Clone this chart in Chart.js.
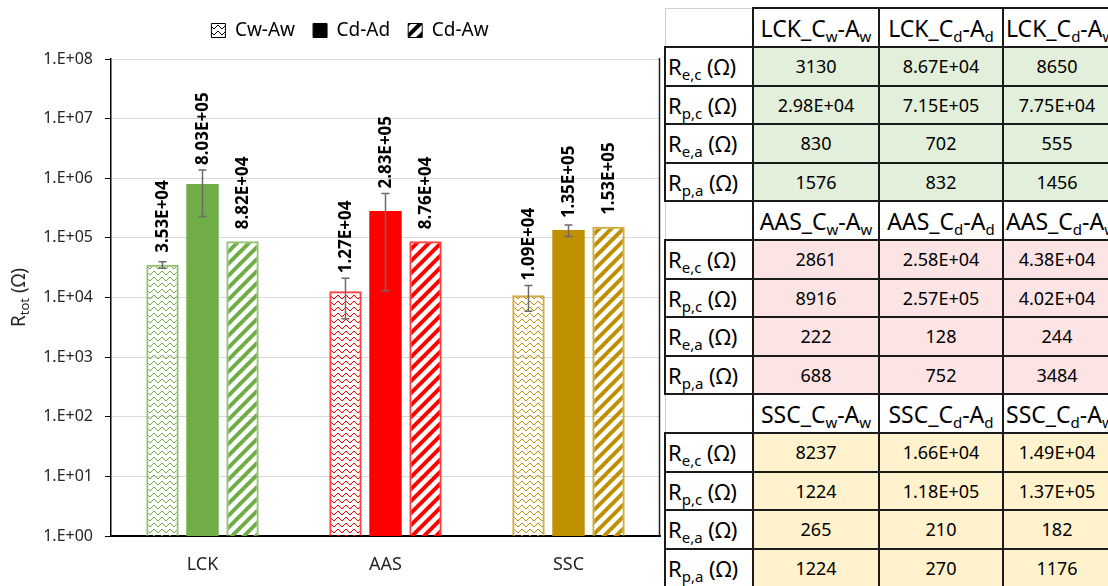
<!DOCTYPE html>
<html><head><meta charset="utf-8">
<script src="https://cdn.jsdelivr.net/npm/chart.js@4"></script>
<style>
html,body{margin:0;padding:0;background:#fff;width:1108px;height:586px;overflow:hidden;}
#wrap{position:relative;width:1108px;height:586px;overflow:hidden;}
#c{position:absolute;left:0;top:0;}
#tbl{position:absolute;left:664px;top:7px;width:446px;border-collapse:collapse;table-layout:fixed;font-family:'Noto Sans',sans-serif;color:#000;}
#tbl td{border:2px solid #1a1a1a;text-align:center;padding:0;white-space:nowrap;overflow:hidden;box-sizing:border-box;}
#tbl tr.h td{height:39px;font-size:23px;background:#fff;}
#tbl tr.h td.last{text-align:left;padding-left:2px;overflow:visible;}
#tbl tr.d td{height:38.5px;font-size:18px;}
#tbl tr.d td.rh{text-align:left;padding-left:2px;font-size:22px;background:#fff;}
#tbl tr.h td.corner{border-top:1px solid #d0d0d0;border-left:1px solid #d0d0d0;}
#tbl span.s{font-size:15px;position:relative;top:5px;}
</style></head>
<body><div id="wrap"><canvas id="c" width="661" height="586"></canvas><table id="tbl"><colgroup><col style="width:88px"><col style="width:126px"><col style="width:124px"><col style="width:108px"></colgroup><tbody id="tb"></tbody></table></div>
<script>
// ---- chart data ----
const categories = ['LCK', 'AAS', 'SSC'];
const seriesLabels = ['Cw-Aw', 'Cd-Ad', 'Cd-Aw'];
const cwAwValues = [3.53e4, 1.27e4, 1.09e4];
const cdAdValues = [8.03e5, 2.83e5, 1.35e5];
const cdAwValues = [8.82e4, 8.76e4, 1.53e5];
const cwAwErrors = [4500, 8300, 5000];
const cdAdErrors = [5.75e5, 2.7e5, 3.0e4];
const cdAwErrors = [0, 0, 0];
const yTickValues = [1, 10, 100, 1e3, 1e4, 1e5, 1e6, 1e7, 1e8];
const yTickLabels = ['1.E+00', '1.E+01', '1.E+02', '1.E+03', '1.E+04', '1.E+05', '1.E+06', '1.E+07', '1.E+08'];
const categoryColors = ['#70AD47', '#FF0000', '#BF9000'];
const categoryBorders = ['rgba(112,173,71,0.75)', 'rgba(255,0,0,0.75)', 'rgba(191,144,0,0.75)'];

// ---- table data ----
const tableSamples = ['LCK', 'AAS', 'SSC'];
const tableColumns = [['w', 'w'], ['d', 'd'], ['d', 'w']];
const tableRowSubs = ['e,c', 'p,c', 'e,a', 'p,a'];
const lckTable = [['3130', '8.67E+04', '8650'], ['2.98E+04', '7.15E+05', '7.75E+04'], ['830', '702', '555'], ['1576', '832', '1456']];
const aasTable = [['2861', '2.58E+04', '4.38E+04'], ['8916', '2.57E+05', '4.02E+04'], ['222', '128', '244'], ['688', '752', '3484']];
const sscTable = [['8237', '1.66E+04', '1.49E+04'], ['1224', '1.18E+05', '1.37E+05'], ['265', '210', '182'], ['1224', '270', '1176']];
const tableFills = ['#E2EFDA', '#FCE4E4', '#FFF2CC'];

// ---- build table ----
(function(){
  const tb = document.getElementById('tb');
  const blocks = [lckTable, aasTable, sscTable];
  let html = '';
  tableSamples.forEach((s, si) => {
    html += '<tr class="h"><td class="corner"></td>';
    tableColumns.forEach((c, ci) => { html += '<td' + (ci === tableColumns.length - 1 ? ' class="last"' : '') + '>' + s + '_C<span class="s">' + c[0] + '</span>-A<span class="s">' + c[1] + '</span></td>'; });
    html += '</tr>';
    blocks[si].forEach((row, ri) => {
      html += '<tr class="d"><td class="rh">R<span class="s">' + tableRowSubs[ri] + '</span> (Ω)</td>';
      row.forEach(v => { html += '<td style="background:' + tableFills[si] + '">' + v + '</td>'; });
      html += '</tr>';
    });
  });
  tb.innerHTML = html;
})();

// ---- patterns ----
function wavePattern(color) {
  const c = document.createElement('canvas'); c.width = 8; c.height = 6;
  const x = c.getContext('2d');
  x.fillStyle = color;
  const ys = [2, 1, 1, 2, 3, 4, 4, 3];
  ys.forEach((y, i) => { x.fillRect(i, y, 1, 1); });
  return x.createPattern(c, 'repeat');
}
function diagPattern(color) {
  const c = document.createElement('canvas'); c.width = 12; c.height = 12;
  const x = c.getContext('2d');
  x.strokeStyle = color; x.lineWidth = 4;
  x.beginPath();
  x.moveTo(-3, 15); x.lineTo(15, -3);
  x.moveTo(-3, 3); x.lineTo(3, -3);
  x.moveTo(9, 15); x.lineTo(15, 9);
  x.stroke();
  return x.createPattern(c, 'repeat');
}
function fmtExp(v) {
  const [m, e] = v.toExponential(2).toUpperCase().split('E');
  const n = parseInt(e, 10);
  return m + 'E' + (n < 0 ? '-' : '+') + String(Math.abs(n)).padStart(2, '0');
}

const datasets = [
  { label: seriesLabels[0], data: cwAwValues, errors: cwAwErrors,
    backgroundColor: categoryColors.map(wavePattern), borderColor: categoryBorders, borderWidth: 2 },
  { label: seriesLabels[1], data: cdAdValues, errors: cdAdErrors,
    backgroundColor: categoryColors, borderWidth: 0 },
  { label: seriesLabels[2], data: cdAwValues, errors: cdAwErrors,
    backgroundColor: categoryColors.map(diagPattern), borderColor: categoryBorders, borderWidth: 2 }
];

const errorBarsPlugin = {
  id: 'errorBars',
  afterDatasetsDraw(chart) {
    const ctx = chart.ctx, ys = chart.scales.y;
    ctx.save();
    ctx.strokeStyle = '#6b6b6b'; ctx.lineWidth = 1.5;
    chart.data.datasets.forEach((ds, di) => {
      chart.getDatasetMeta(di).data.forEach((bar, i) => {
        const e = ds.errors[i]; if (!e) return;
        const v = ds.data[i];
        const yt = ys.getPixelForValue(v + e), yb = ys.getPixelForValue(Math.max(v - e, 1));
        ctx.beginPath();
        ctx.moveTo(bar.x, yt); ctx.lineTo(bar.x, yb);
        ctx.moveTo(bar.x - 4, yt); ctx.lineTo(bar.x + 4, yt);
        ctx.moveTo(bar.x - 4, yb); ctx.lineTo(bar.x + 4, yb);
        ctx.stroke();
      });
    });
    ctx.restore();
  }
};
const valueLabelsPlugin = {
  id: 'valueLabels',
  afterDatasetsDraw(chart) {
    const ctx = chart.ctx, ys = chart.scales.y;
    ctx.save();
    ctx.fillStyle = '#000';
    ctx.font = 'bold 17px "Liberation Sans Narrow", "Noto Sans"';
    ctx.textAlign = 'left'; ctx.textBaseline = 'middle';
    chart.data.datasets.forEach((ds, di) => {
      chart.getDatasetMeta(di).data.forEach((bar, i) => {
        const v = ds.data[i], e = ds.errors[i];
        let yb = bar.y - 12;
        if (e) yb = Math.min(yb, ys.getPixelForValue(v + e) - 5);
        ctx.save();
        ctx.translate(bar.x + 1, yb);
        ctx.rotate(-Math.PI / 2);
        ctx.fillText(fmtExp(v), 0, 0);
        ctx.restore();
      });
    });
    ctx.restore();
  }
};
const axisTitlePlugin = {
  id: 'axisTitle',
  afterDraw(chart) {
    const ctx = chart.ctx, a = chart.chartArea;
    ctx.save();
    ctx.translate(20, (a.top + a.bottom) / 2);
    ctx.rotate(-Math.PI / 2);
    ctx.fillStyle = '#262626';
    ctx.textBaseline = 'middle'; ctx.textAlign = 'left';
    const big = '19px "Noto Sans"', small = '13px "Noto Sans"';
    ctx.font = big; const w1 = ctx.measureText('R').width, w3 = ctx.measureText(' (Ω)').width;
    ctx.font = small; const w2 = ctx.measureText('tot').width;
    let x0 = -(w1 + w2 + w3) / 2;
    ctx.font = big; ctx.fillText('R', x0, 0);
    ctx.font = small; ctx.fillText('tot', x0 + w1, 5);
    ctx.font = big; ctx.fillText(' (Ω)', x0 + w1 + w2, 0);
    ctx.restore();
  }
};
const framePlugin = {
  id: 'frame',
  afterDraw(chart) {
    const ctx = chart.ctx, a = chart.chartArea;
    ctx.save();
    ctx.strokeStyle = '#222'; ctx.lineWidth = 1.5;
    ctx.beginPath(); ctx.moveTo(a.right - 0.5, a.top - 1); ctx.lineTo(a.right - 0.5, a.bottom + 1); ctx.stroke();
    ctx.restore();
  }
};

Chart.defaults.font.family = '"Noto Sans", sans-serif';
new Chart(document.getElementById('c').getContext('2d'), {
  type: 'bar',
  data: { labels: categories, datasets },
  options: {
    responsive: false, animation: false,
    layout: { padding: { left: 40, right: 1, top: 3, bottom: 0 } },
    datasets: { bar: { categoryPercentage: 0.656, barPercentage: 0.81 } },
    plugins: {
      tooltip: { enabled: false },
      title: { display: true, text: '', weight: 500, font: { size: 1, lineHeight: 1 }, padding: { top: 0, bottom: 8 } },
      legend: {
        position: 'top',
        labels: {
          boxWidth: 14, boxHeight: 14, padding: 18, color: '#262626', font: { size: 19 },
          generateLabels: () => [
            { text: seriesLabels[0], fillStyle: wavePattern('#000'), strokeStyle: '#000', lineWidth: 1, datasetIndex: 0, hidden: false },
            { text: seriesLabels[1], fillStyle: '#000', strokeStyle: '#000', lineWidth: 1, datasetIndex: 1, hidden: false },
            { text: seriesLabels[2], fillStyle: diagPattern('#000'), strokeStyle: '#000', lineWidth: 1, datasetIndex: 2, hidden: false }
          ]
        }
      }
    },
    scales: {
      x: {
        afterFit(s) { s.height = 50; },
        grid: { display: false, drawTicks: false },
        border: { color: '#000', width: 2 },
        ticks: { padding: 18, color: '#262626', font: { size: 18 } }
      },
      y: {
        type: 'logarithmic', min: 1, max: 1e8,
        afterFit(s) { s.width = 71; },
        afterBuildTicks(s) { s.ticks = yTickValues.map(v => ({ value: v })); },
        ticks: { autoSkip: false, padding: 12, color: '#262626', font: { size: 16 },
          callback: (v, i) => yTickLabels[i] },
        grid: { color: '#D9D9D9', lineWidth: 1, tickLength: 6, tickColor: '#000' },
        border: { color: '#000', width: 1.5 }
      }
    }
  },
  plugins: [errorBarsPlugin, valueLabelsPlugin, axisTitlePlugin, framePlugin]
});
</script></body></html>
